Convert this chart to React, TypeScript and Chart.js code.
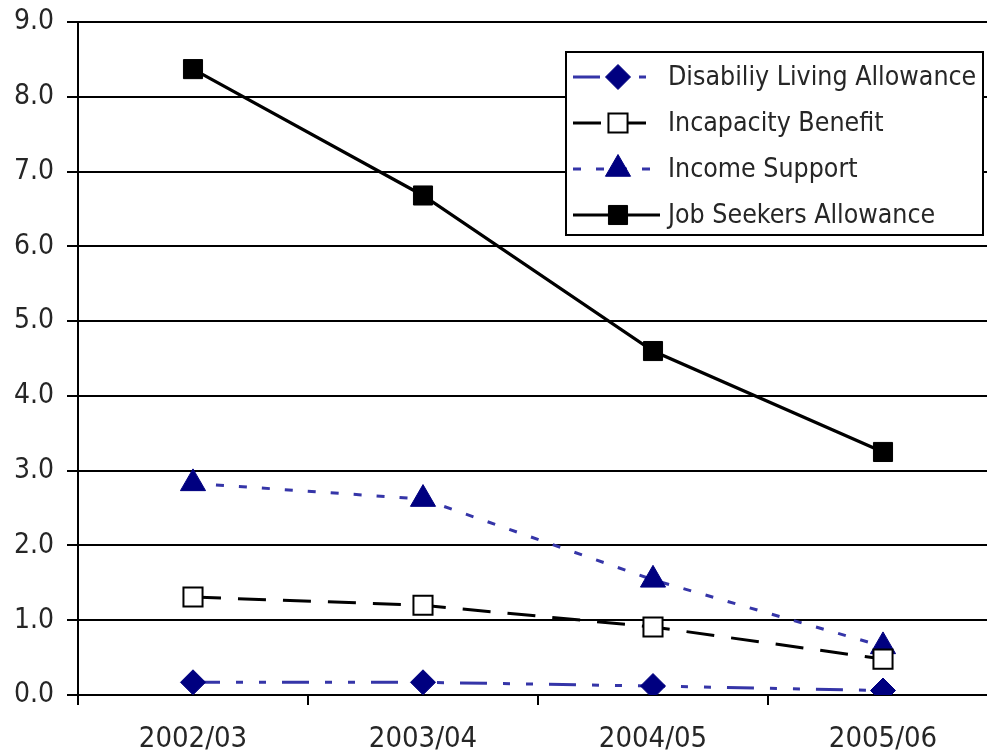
import React, { useEffect, useRef } from "react";
import { Chart, registerables } from "chart.js";
import { drawPoint } from "chart.js/helpers";

Chart.register(...registerables);

const categories = ["2002/03", "2003/04", "2004/05", "2005/06"];
const seriesLabels = [
  "Disabiliy Living Allowance",
  "Incapacity Benefit",
  "Income Support",
  "Job Seekers Allowance",
];
const disabilityLiving = [0.17, 0.17, 0.12, 0.06];
const incapacityBenefit = [1.31, 1.2, 0.91, 0.48];
const incomeSupport = [2.83, 2.62, 1.54, 0.65];
const jobSeekers = [8.37, 6.68, 4.6, 3.25];
const yMin = 0;
const yMax = 9;
const yStep = 1;

const FONT = "'DejaVu Sans Condensed', 'DejaVu Sans', sans-serif";
const TEXT = "#262626";

// the plot area runs a little past the right edge of the picture, as in the original
const extendRight = {
  id: "extendRight",
  afterLayout(chart: any) {
    const xs = chart.scales.x;
    const overflow = 11;
    xs.right = chart.width + overflow;
    xs.width = xs.right - xs.left;
    chart.chartArea.right = xs.right;
    chart.chartArea.width = xs.right - chart.chartArea.left;
    xs.configure();
  },
};

const boxLegend = {
  id: "boxLegend",
  afterDraw(chart: any) {
    const ctx = chart.ctx as CanvasRenderingContext2D;
    const x0 = 566,
      y0 = 52,
      w = 417,
      h = 183;
    ctx.save();
    ctx.fillStyle = "#ffffff";
    ctx.fillRect(x0, y0, w, h);
    ctx.lineWidth = 2;
    ctx.strokeStyle = "#000000";
    ctx.setLineDash([]);
    ctx.strokeRect(x0, y0, w, h);
    chart.data.datasets.forEach((ds: any, i: number) => {
      const cy = y0 + 25 + i * 46;
      ctx.save();
      ctx.strokeStyle = ds.borderColor;
      ctx.lineWidth = ds.borderWidth;
      ctx.setLineDash(ds.borderDash || []);
      ctx.beginPath();
      ctx.moveTo(573, cy);
      ctx.lineTo(660, cy);
      ctx.stroke();
      ctx.restore();
      ctx.save();
      ctx.setLineDash([]);
      ctx.fillStyle = ds.pointBackgroundColor;
      ctx.strokeStyle = ds.pointBorderColor;
      ctx.lineWidth = ds.pointBorderWidth;
      drawPoint(
        ctx,
        {
          pointStyle: ds.pointStyle,
          radius: ds.pointRadius,
          rotation: 0,
          borderWidth: ds.pointBorderWidth,
        } as any,
        618,
        cy
      );
      ctx.restore();
      ctx.fillStyle = TEXT;
      ctx.font = `26.5px ${FONT}`;
      ctx.textBaseline = "middle";
      ctx.textAlign = "left";
      ctx.fillText(ds.label, 668, cy + 1);
    });
    ctx.restore();
  },
};

export default function App() {
  const ref = useRef<HTMLCanvasElement | null>(null);
  useEffect(() => {
    if (!ref.current) return;
    const chart = new Chart(ref.current, {
      type: "line",
      data: {
        labels: categories,
        datasets: [
          {
            label: seriesLabels[0],
            data: disabilityLiving,
            borderColor: "#3535a8",
            borderWidth: 3,
            borderDash: [27, 16, 7, 16, 7, 16],
            pointStyle: "rectRot",
            pointRadius: 12.5,
            pointBackgroundColor: "#000080",
            pointBorderColor: "#000080",
            pointBorderWidth: 1,
            tension: 0,
          },
          {
            label: seriesLabels[1],
            data: incapacityBenefit,
            borderColor: "#000000",
            borderWidth: 3,
            borderDash: [28, 17],
            pointStyle: "rect",
            pointRadius: 13.5,
            pointBackgroundColor: "#ffffff",
            pointBorderColor: "#000000",
            pointBorderWidth: 2,
            tension: 0,
          },
          {
            label: seriesLabels[2],
            data: incomeSupport,
            borderColor: "#3535a8",
            borderWidth: 3,
            borderDash: [8, 15],
            pointStyle: "triangle",
            pointRadius: 14.5,
            pointBackgroundColor: "#000080",
            pointBorderColor: "#000080",
            pointBorderWidth: 1,
            tension: 0,
          },
          {
            label: seriesLabels[3],
            data: jobSeekers,
            borderColor: "#000000",
            borderWidth: 3.2,
            pointStyle: "rect",
            pointRadius: 13.5,
            pointBackgroundColor: "#000000",
            pointBorderColor: "#000000",
            pointBorderWidth: 1,
            tension: 0,
          },
        ],
      },
      options: {
        animation: false,
        responsive: true,
        maintainAspectRatio: false,
        layout: { padding: { top: 22, right: 0, left: 0, bottom: 0 } },
        plugins: {
          legend: { display: false },
          tooltip: { enabled: false },
        },
        scales: {
          x: {
            type: "category",
            offset: true,
            grid: {
              offset: true,
              drawOnChartArea: false,
              drawTicks: true,
              tickLength: 10,
              color: "#000000",
              lineWidth: 2,
            },
            border: { display: true, color: "#000000", width: 2 },
            ticks: {
              font: { family: FONT, size: 29 },
              color: TEXT,
              padding: 17,
              maxRotation: 0,
            },
            afterFit: (s: any) => {
              s.height = 61;
              s.paddingLeft = 0;
              s.paddingRight = 0;
            },
          },
          y: {
            min: yMin,
            max: yMax,
            grid: { color: "#000000", lineWidth: 2, tickLength: 11 },
            border: { display: true, color: "#000000", width: 2 },
            ticks: {
              stepSize: yStep,
              font: { family: FONT, size: 28 },
              color: TEXT,
              padding: 13,
              callback: (v: any) => Number(v).toFixed(1),
            },
            afterFit: (s: any) => {
              s.width = 78;
              s.paddingTop = 0;
              s.paddingBottom = 0;
            },
          },
        },
      },
      plugins: [extendRight, boxLegend],
    });
    return () => chart.destroy();
  }, []);
  return (
    <div
      style={{
        position: "fixed",
        left: 0,
        top: 0,
        width: 987,
        height: 756,
        overflow: "hidden",
        background: "#fff",
      }}
    >
      <canvas ref={ref} style={{ display: "block" }} />
    </div>
  );
}
